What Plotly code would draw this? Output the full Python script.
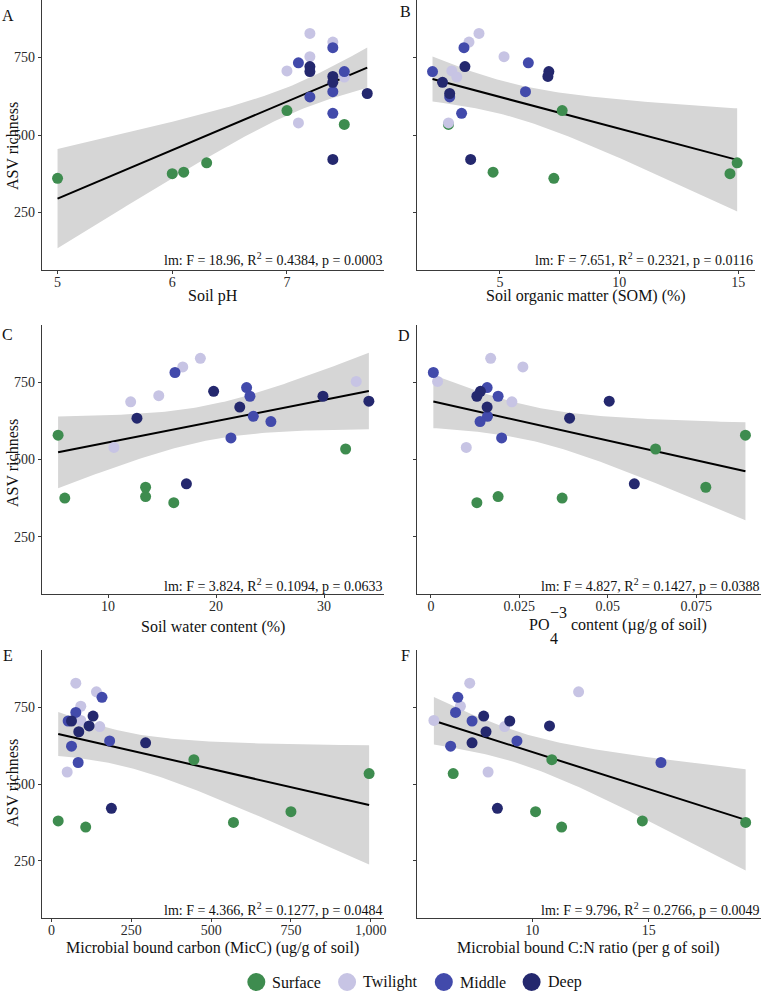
import numpy as np
import plotly.graph_objects as go

W, H = 764, 992
FONT = "Liberation Serif"

groups = ["Surface", "Twilight", "Middle", "Deep"]
colors = ["#3e8c4f", "#c7c4e4", "#424aab", "#24286e"]

# ASV richness per sample, by group (same sample order in every x list below)
richness = {
    "Surface": [360, 375, 380, 410, 579, 534],
    "Twilight": [828, 800, 753, 707, 687, 539],
    "Middle": [782, 733, 705, 640, 623, 570],
    "Deep": [721, 705, 689, 670, 634, 421],
}

soil_ph = {
    "Surface": [5.0, 6.0, 6.1, 6.3, 7.0, 7.5],
    "Twilight": [7.2, 7.4, 7.2, 7.0, 7.5, 7.1],
    "Middle": [7.4, 7.1, 7.5, 7.4, 7.2, 7.4],
    "Deep": [7.2, 7.2, 7.4, 7.4, 7.7, 7.4],
}
som = {
    "Surface": [7.26, 14.65, 4.71, 14.95, 7.61, 2.84],
    "Twilight": [4.12, 3.70, 5.17, 2.98, 3.19, 2.84],
    "Middle": [3.49, 6.19, 2.17, 6.07, 2.89, 3.39],
    "Deep": [3.53, 7.05, 7.01, 2.59, 2.89, 3.77],
}
water = {
    "Surface": [16.09, 6.0, 13.48, 13.48, 5.38, 32.0],
    "Twilight": [18.55, 16.92, 32.98, 14.7, 12.1, 10.55],
    "Middle": [16.2, 22.83, 23.14, 23.45, 25.08, 21.38],
    "Deep": [19.78, 29.9, 34.15, 22.2, 12.68, 17.26],
}
po4 = {
    "Surface": [0.013, 0.0371, 0.019, 0.0777, 0.0889, 0.0635],
    "Twilight": [0.0169, 0.026, 0.0019, 0.013, 0.0229, 0.010],
    "Middle": [0.0007, 0.0159, 0.019, 0.016, 0.0139, 0.020],
    "Deep": [0.014, 0.013, 0.0504, 0.0159, 0.0392, 0.0575],
}
micc = {
    "Surface": [107, 570, 20.8, 750, 446, 995],
    "Twilight": [76, 140.6, 91.6, 91.6, 151, 48.9],
    "Middle": [158, 76, 52, 182, 62.5, 83.3],
    "Deep": [130, 62.5, 117.6, 85.3, 294.7, 187.5],
}
cn_ratio = {
    "Surface": [11.26, 19.17, 14.73, 10.14, 10.84, 6.60],
    "Twilight": [7.31, 11.99, 6.91, 5.77, 8.81, 8.10],
    "Middle": [6.80, 6.70, 7.41, 9.34, 6.49, 15.53],
    "Deep": [7.91, 9.03, 10.74, 8.01, 7.41, 8.5],
}

stats = [
    "lm: F = 18.96, R<sup>2</sup> = 0.4384, p = 0.0003",
    "lm: F = 7.651, R<sup>2</sup> = 0.2321, p = 0.0116",
    "lm: F = 3.824, R<sup>2</sup> = 0.1094, p = 0.0633",
    "lm: F = 4.827, R<sup>2</sup> = 0.1427, p = 0.0388",
    "lm: F = 4.366, R<sup>2</sup> = 0.1277, p = 0.0484",
    "lm: F = 9.796, R<sup>2</sup> = 0.2766, p = 0.0049",
]
x_titles = [
    "Soil pH",
    "Soil organic matter (SOM) (%)",
    "Soil water content (%)",
    None,
    "Microbial bound carbon (MicC) (ug/g of soil)",
    "Microbial bound C:N ratio (per g of soil)",
]
tags = ["A", "B", "C", "D", "E", "F"]
y_ticks = [250, 500, 750]
x_ticks = [
    [5, 6, 7], [5, 10, 15], [10, 20, 30],
    [0, 0.025, 0.05, 0.075], [0, 250, 500, 750, 1000], [10, 15],
]
x_ticktext = [
    ["5", "6", "7"], ["5", "10", "15"], ["10", "20", "30"],
    ["0", "0.025", "0.05", "0.075"], ["0", "250", "500", "750", "1,000"], ["10", "15"],
]
datasets = [soil_ph, som, water, po4, micc, cn_ratio]

# layout geometry (pixels)
xpix = [(42, 385), (418, 757), (42, 385), (418, 763), (42, 385), (418, 763)]
ypix = [(0, 270), (0, 270), (325, 594), (325, 594), (650, 918), (650, 918)]
x_ranges = [
    [4.8635, 7.846], [1.515, 15.7], [3.88, 35.55],
    [-0.00395, 0.0933], [-30.3, 1041.6], [5.04, 19.83],
]
y_range = [64, 936]

def px2x(p):
    return p / W

def px2y(p):
    return 1 - p / H

fig = go.Figure()
layout = dict(
    width=W, height=H, margin=dict(l=0, r=0, t=0, b=0),
    paper_bgcolor="white", plot_bgcolor="white", showlegend=False,
    font=dict(family=FONT, size=14, color="#222"),
)
annotations = []
shapes = []

t_crit = 2.0739  # t(0.975, df=22)

for i, data in enumerate(datasets):
    k = i + 1
    xa = "x" if k == 1 else f"x{k}"
    ya = "y" if k == 1 else f"y{k}"
    x0, x1 = xpix[i]
    y0, y1 = ypix[i]
    layout["xaxis" if k == 1 else f"xaxis{k}"] = dict(
        domain=[px2x(x0), px2x(x1)], range=x_ranges[i], anchor=ya,
        showline=True, linecolor="#3a3a3a", linewidth=1, ticks="outside",
        ticklen=3, tickcolor="#3a3a3a", tickvals=x_ticks[i], ticktext=x_ticktext[i],
        ticklabelstandoff=-4,
        showgrid=False, zeroline=False, tickfont=dict(size=14, color="#2a2a2a"),
    )
    layout["yaxis" if k == 1 else f"yaxis{k}"] = dict(
        domain=[px2y(y1), px2y(y0)], range=y_range, anchor=xa,
        showline=True, linecolor="#3a3a3a", linewidth=1, ticks="outside",
        ticklen=3, tickcolor="#3a3a3a", tickvals=y_ticks,
        showticklabels=(i % 2 == 0), showgrid=False, zeroline=False,
        tickfont=dict(size=14, color="#2a2a2a"),
    )

    xs_all = np.concatenate([np.array(data[g], float) for g in groups])
    ys_all = np.concatenate([np.array(richness[g], float) for g in groups])
    n = len(xs_all)
    slope, icpt = np.polyfit(xs_all, ys_all, 1)
    resid = ys_all - (slope * xs_all + icpt)
    s = np.sqrt(np.sum(resid ** 2) / (n - 2))
    xbar = xs_all.mean()
    sxx = np.sum((xs_all - xbar) ** 2)
    grid = np.linspace(xs_all.min(), xs_all.max(), 100)
    fit = slope * grid + icpt
    se = s * np.sqrt(1 / n + (grid - xbar) ** 2 / sxx)
    upper = fit + t_crit * se
    lower = fit - t_crit * se

    fig.add_trace(go.Scatter(
        x=np.concatenate([grid, grid[::-1]]), y=np.concatenate([upper, lower[::-1]]),
        fill="toself", fillcolor="#d6d6d6", line=dict(width=0), mode="lines",
        hoverinfo="skip", xaxis=xa, yaxis=ya,
    ))
    fig.add_trace(go.Scatter(
        x=grid, y=fit, mode="lines", line=dict(color="black", width=2),
        xaxis=xa, yaxis=ya,
    ))
    for g, c in zip(groups, colors):
        fig.add_trace(go.Scatter(
            x=data[g], y=richness[g], mode="markers", name=g,
            marker=dict(color=c, size=11, line=dict(width=0)),
            xaxis=xa, yaxis=ya,
        ))

    # stats text
    row_text_y = {0: 259, 325: 585, 650: 909}[y0]
    annotations.append(dict(
        text=stats[i], xref="paper", yref="paper", x=px2x(x1), y=px2y(row_text_y),
        xanchor="right", yanchor="middle", showarrow=False,
        font=dict(size=14, family=FONT, color="#111"),
    ))
    # x title
    if x_titles[i] is not None:
        title_y = {0: 296, 325: 627, 650: 948}[y0]
        annotations.append(dict(
            text=x_titles[i], xref="paper", yref="paper", x=px2x((x0 + x1) / 2),
            y=px2y(title_y), xanchor="center", yanchor="middle", showarrow=False,
            font=dict(size=16, family=FONT, color="#111"),
        ))

# tags
tag_pos = [(8, 15), (407, 12), (8, 335), (405, 336), (8, 655), (407, 655)]
for t, (tx, ty) in zip(tags, tag_pos):
    annotations.append(dict(
        text=t, xref="paper", yref="paper", x=px2x(tx), y=px2y(ty),
        xanchor="center", yanchor="middle", showarrow=False,
        font=dict(size=16, family=FONT, color="#111"),
    ))

# y titles
for yc in [146, 463, 783]:
    annotations.append(dict(
        text="ASV richness", xref="paper", yref="paper", x=px2x(12), y=px2y(yc),
        xanchor="center", yanchor="middle", textangle=-90, showarrow=False,
        font=dict(size=16, family=FONT, color="#111"),
    ))

# D title: PO4^-3 content (µg/g of soil)
d_pieces = [
    ("PO", 528, 624, "left"),
    ("\u22123", 549, 612, "left"),
    ("4", 549, 638, "left"),
    ("content (\u00b5g/g of soil)", 570, 625, "left"),
]
for txt, tx, ty, anc in d_pieces:
    annotations.append(dict(
        text=txt, xref="paper", yref="paper", x=px2x(tx), y=px2y(ty),
        xanchor=anc, yanchor="middle", showarrow=False,
        font=dict(size=16, family=FONT, color="#111"),
    ))

# legend (manual)
leg_circ_x = [257, 348, 445, 533]
leg_y = 982
for g, c, cx in zip(groups, colors, leg_circ_x):
    shapes.append(dict(
        type="circle", xref="paper", yref="paper",
        xsizemode="pixel", ysizemode="pixel",
        xanchor=px2x(cx), yanchor=px2y(leg_y),
        x0=-9, x1=9, y0=-9, y1=9, fillcolor=c, line=dict(width=0),
    ))
    annotations.append(dict(
        text=g, xref="paper", yref="paper", x=px2x(cx + 14), y=px2y(leg_y),
        xanchor="left", yanchor="middle", showarrow=False,
        font=dict(size=16, family=FONT, color="#111"),
    ))

layout["annotations"] = annotations
layout["shapes"] = shapes
fig.update_layout(**layout)
fig.write_html(
    "out.html",
    config={"displayModeBar": False},
    post_script="document.body.style.margin='0px';document.body.style.padding='0px';",
)
